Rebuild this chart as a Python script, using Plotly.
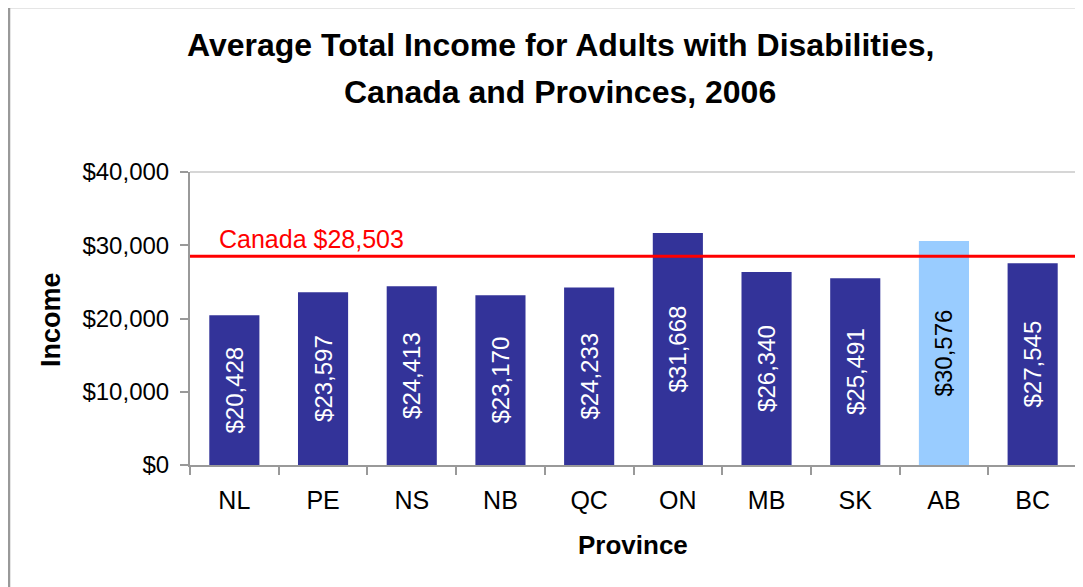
import plotly.graph_objects as go

provinces = ["NL", "PE", "NS", "NB", "QC", "ON", "MB", "SK", "AB", "BC"]
income = [20428, 23597, 24413, 23170, 24233, 31668, 26340, 25491, 30576, 27545]
canada_avg = 28503
highlight = "AB"
y_ticks = [0, 10000, 20000, 30000, 40000]
title_lines = ["Average Total Income for Adults with Disabilities,",
               "Canada and Provinces, 2006"]

FONT = "Arial, Liberation Sans, sans-serif"
bar_colors = ["#99CCFF" if p == highlight else "#333399" for p in provinces]
text_colors = ["#000000" if p == highlight else "#FFFFFF" for p in provinces]
labels = ["${:,}".format(v) for v in income]

# layout geometry (figure pixels)
L, R, T, B = 182, 14, 164, 130
W, H = 1083, 587
PW, PH = W - L - R, H - T - B


def px(x):
    return (x - L) / PW


def py(y):
    return 1 - (y - T) / PH


fig = go.Figure()
fig.add_trace(go.Bar(
    x=provinces, y=income,
    marker=dict(color=bar_colors, line=dict(width=0)),
    text=labels, textposition="inside", insidetextanchor="middle",
    textangle=-90,
    textfont=dict(family=FONT, size=24, color=text_colors),
    hoverinfo="skip",
))

# Canada average line
fig.add_shape(type="line", xref="paper", yref="y", x0=0, x1=1,
              y0=canada_avg, y1=canada_avg,
              line=dict(color="#FF0000", width=3), layer="above")
fig.add_annotation(xref="paper", yref="y", x=px(209), y=canada_avg,
                   xanchor="left", yanchor="bottom", yshift=1,
                   text="Canada ${:,}".format(canada_avg), showarrow=False,
                   font=dict(family=FONT, size=25, color="#FF0000"))

# plot area top/right border (light)
fig.add_shape(type="line", xref="paper", yref="paper", x0=0, x1=1, y0=1, y1=1,
              line=dict(color="#C8C8C8", width=1.5))
fig.add_shape(type="line", xref="paper", yref="paper", x0=1, x1=1, y0=0, y1=1,
              line=dict(color="#C8C8C8", width=1.5))

# outer chart border (top and left visible)
fig.add_shape(type="rect", xref="paper", yref="paper",
              x0=px(1), x1=px(W + 50), y0=py(H + 50), y1=py(-1),
              line=dict(color="#999999", width=2.5))

# title (two lines)
for txt, yc in zip(title_lines, [37, 84]):
    fig.add_annotation(xref="paper", yref="paper", x=px(552), y=py(yc),
                       text="<b>" + txt + "</b>", showarrow=False,
                       xanchor="center", yanchor="middle",
                       font=dict(family=FONT, size=32, color="#000000"))

# axis titles
fig.add_annotation(xref="paper", yref="paper", x=px(43), y=py(312),
                   text="<b>Income</b>", textangle=-90, showarrow=False,
                   xanchor="center", yanchor="middle",
                   font=dict(family=FONT, size=27, color="#000000"))
fig.add_annotation(xref="paper", yref="paper", x=px(625), y=py(537),
                   text="<b>Province</b>", showarrow=False,
                   xanchor="center", yanchor="middle",
                   font=dict(family=FONT, size=26, color="#000000"))

fig.update_layout(
    width=W, height=H,
    margin=dict(l=L, r=R, t=T, b=B, autoexpand=False),
    paper_bgcolor="white", plot_bgcolor="white",
    bargap=0.435, showlegend=False,
    font=dict(family=FONT, color="#000000"),
)
fig.update_xaxes(
    showline=True, linecolor="#999999", linewidth=2,
    ticks="outside", tickson="boundaries", ticklen=8, tickcolor="#999999", tickwidth=2,
    tickfont=dict(family=FONT, size=25, color="#000000"),
    ticklabelstandoff=12,
    showgrid=False, fixedrange=True, automargin=False,
)
fig.update_yaxes(
    range=[0, 40000], tickvals=y_ticks,
    ticktext=["${:,}".format(v) for v in y_ticks],
    showline=True, linecolor="#999999", linewidth=2,
    ticks="outside", ticklen=8, tickcolor="#999999", tickwidth=2,
    tickfont=dict(family=FONT, size=24, color="#000000"),
    ticklabelstandoff=6,
    showgrid=False, zeroline=False, fixedrange=True, automargin=False,
)

fig.write_html("out.html")
